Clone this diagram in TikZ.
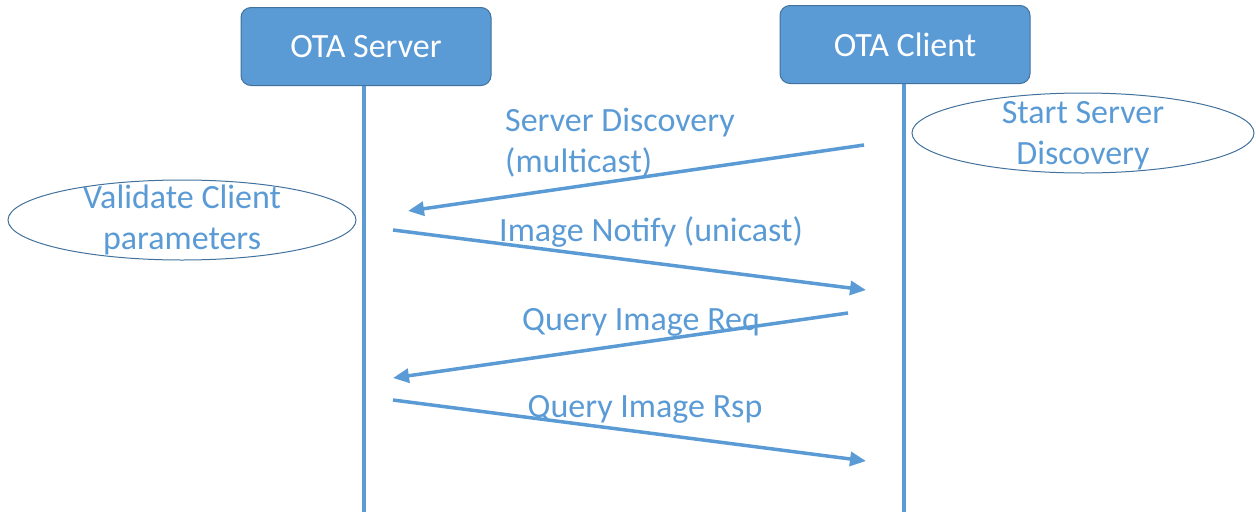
\documentclass[tikz,border=0pt]{standalone}
\usepackage{fontspec}
\setmainfont{Carlito}
\usetikzlibrary{shapes.geometric,arrows.meta}
\definecolor{accent}{HTML}{5B9BD5}
\definecolor{edge}{HTML}{41719C}
\tikzset{
  actor/.style={draw=edge, line width=1pt, fill=accent, rounded corners=10pt, minimum width=250pt, minimum height=78pt, text=white, font=\fontsize{34}{36}\selectfont},
  life/.style={draw=accent, line width=3.5pt},
  msg/.style={draw=accent, line width=3.5pt, -{Triangle[length=16pt,width=14pt]}},
  note/.style={ellipse, draw=edge, line width=1pt, inner sep=0pt},
  notetext/.style={text=accent, align=center, font=\fontsize{34}{41}\selectfont, inner sep=0pt},
  lbl/.style={text=accent, font=\fontsize{34}{40}\selectfont, inner sep=0pt}
}
\begin{document}
\begin{tikzpicture}[x=1pt,y=-1pt]
\useasboundingbox (0,0) rectangle (1256,512);
\node[actor] (srv) at (366,46.5) {OTA Server};
\node[actor] (cli) at (905,44.5) {OTA Client};
\coordinate (srvEnd) at (364,512);
\coordinate (cliEnd) at (904,512);
\draw[life] (srv.south -| srvEnd) -- (srvEnd);
\draw[life] (cli.south -| cliEnd) -- (cliEnd);
\node[note, minimum width=342pt, minimum height=80pt] (start) at (1083,133) {};
\node[notetext] (starttxt) at ([yshift=-3pt]start.center) {Start Server\\Discovery};
\node[note, minimum width=348pt, minimum height=80pt] (valid) at (182,220) {};
\node[notetext] (validtxt) at (valid.center) {Validate Client\\parameters};
\coordinate (a1s) at (864,145); \coordinate (a1e) at (408,211);
\coordinate (a2s) at (393,230); \coordinate (a2e) at (866,290);
\coordinate (a3s) at (848,313); \coordinate (a3e) at (393,378);
\coordinate (a4s) at (393,400); \coordinate (a4e) at (866,461);
\draw[msg] (a1s) -- (a1e);
\draw[msg] (a2s) -- (a2e);
\draw[msg] (a3s) -- (a3e);
\draw[msg] (a4s) -- (a4e);
\node[lbl, anchor=west] (l1a) at (505,123) {Server Discovery};
\node[lbl, anchor=west] (l1b) at (505,162) {(multicast)};
\node[lbl] (l2) at (651,232) {Image Notify (unicast)};
\node[lbl] (l3) at (641,322) {Query Image Req};
\node[lbl] (l4) at (645,409) {Query Image Rsp};
\end{tikzpicture}
\end{document}
